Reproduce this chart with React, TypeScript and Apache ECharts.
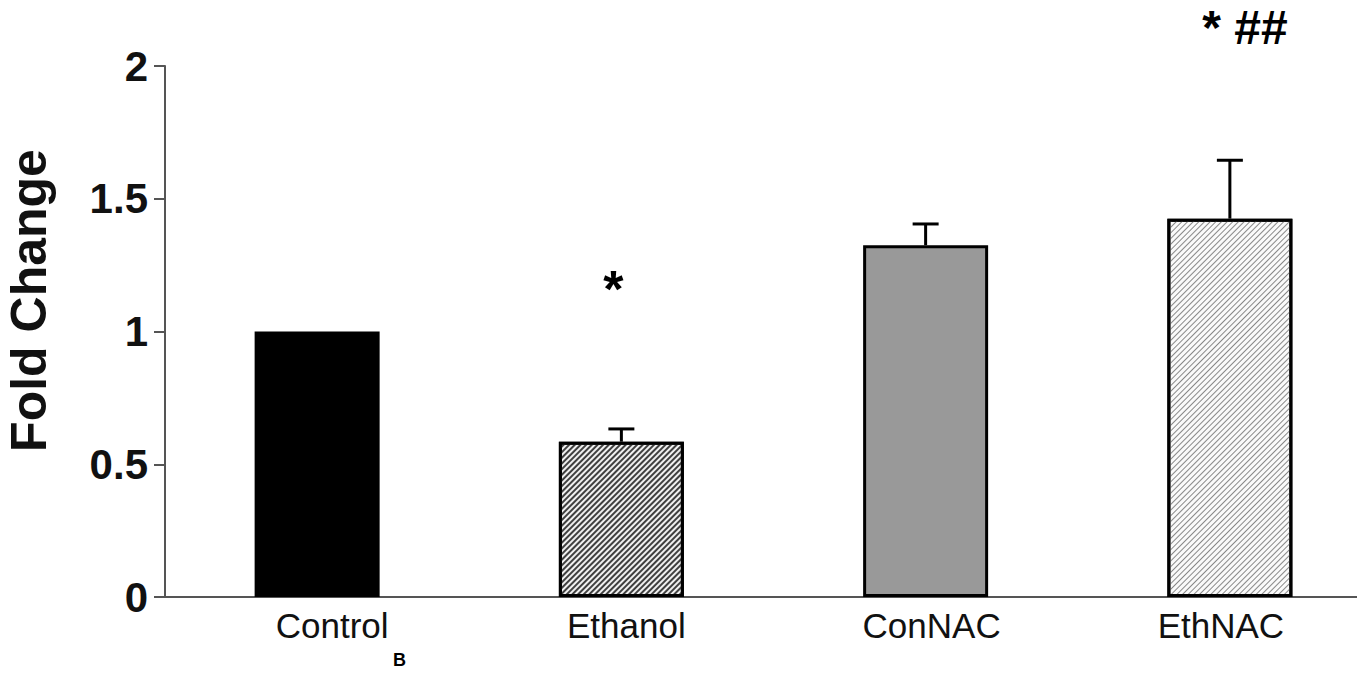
import React, { useEffect, useRef } from "react";
import * as echarts from "echarts";

const categories = ["Control", "Ethanol", "ConNAC", "EthNAC"];
const means = [1.0, 0.585, 1.325, 1.425];
const errors = [0, 0.048, 0.08, 0.22];
const annotations = ["", "*", "", "* ##"];
const yTicks = [0, 0.5, 1, 1.5, 2];

// horizontal nudge of each category label (px), as in the source figure
const labelShift = [15, 5, 6, -9];

export default function App() {
  const ref = useRef<HTMLDivElement>(null);
  useEffect(() => {
    if (!ref.current) return;
    const chart = echarts.init(ref.current, null, { renderer: "svg" });
    const font = "Arial, Liberation Sans, sans-serif";
    const barStyles = [
      { color: "#000000" },
      {
        color: "#f0f0f0",
        decal: {
          symbol: "rect",
          symbolSize: 1,
          dashArrayX: [1, 0],
          dashArrayY: [2, 2],
          rotation: -Math.PI / 4,
          color: "#404040",
        },
      },
      { color: "#999999" },
      {
        color: "#fafafa",
        decal: {
          symbol: "rect",
          symbolSize: 1,
          dashArrayX: [1, 0],
          dashArrayY: [1, 3],
          rotation: -Math.PI / 4,
          color: "#888888",
        },
      },
    ];
    chart.setOption({
      animation: false,
      grid: {
        left: 165,
        top: 66,
        bottom: 78,
        width: 1217,
        containLabel: false,
        outerBoundsMode: "none",
      },
      xAxis: {
        type: "category",
        data: categories.map((c, i) => ({
          value: c,
          textStyle: {
            padding: labelShift[i] >= 0 ? [0, 0, 0, 2 * labelShift[i]] : [0, -2 * labelShift[i], 0, 0],
          },
        })),
        axisLine: { lineStyle: { color: "#555", width: 2 } },
        axisTick: { show: false },
        axisLabel: {
          margin: 11,
          fontFamily: font,
          fontSize: 35,
          color: "#111",
        },
      },
      yAxis: {
        type: "value",
        min: 0,
        max: 2,
        interval: 0.5,
        name: "Fold Change",
        nameLocation: "middle",
        nameGap: 111,
        nameRotate: 90,
        nameTextStyle: {
          fontFamily: font,
          fontSize: 50,
          fontWeight: "bold",
          color: "#111",
          padding: [0, 0, 0, 62],
        },
        axisLine: { show: true, lineStyle: { color: "#555", width: 2 } },
        axisTick: { show: true, inside: false, length: 11, lineStyle: { color: "#555", width: 2 } },
        splitLine: { show: false },
        axisLabel: {
          margin: 17,
          fontFamily: font,
          fontSize: 42,
          fontWeight: "bold",
          color: "#111",
          formatter: (v: number) => (yTicks.includes(v) ? String(v) : ""),
        },
      },
      series: [
        {
          type: "bar",
          barWidth: 125,
          data: means.map((v, i) => ({
            value: v,
            itemStyle: { ...barStyles[i], borderColor: "#000", borderWidth: 3 },
          })),
          z: 2,
        },
        {
          type: "custom",
          z: 3,
          clip: false,
          data: means.map((m, i) => [i, m, m + errors[i]]),
          renderItem: (params: any, api: any) => {
            const i = api.value(0);
            const top = api.coord([i, api.value(2)]);
            const base = api.coord([i, api.value(1)]);
            const children: any[] = [];
            if (api.value(2) > api.value(1)) {
              children.push({
                type: "line",
                shape: { x1: top[0], y1: base[1], x2: top[0], y2: top[1] },
                style: { stroke: "#000", lineWidth: 3 },
              });
              children.push({
                type: "line",
                shape: { x1: top[0] - 13, y1: top[1], x2: top[0] + 13, y2: top[1] },
                style: { stroke: "#000", lineWidth: 3 },
              });
            }
            const ann = annotations[i];
            if (ann) {
              const multi = ann.length > 1;
              children.push({
                type: "text",
                x: top[0] + (multi ? 15 : -8),
                y: top[1] - (multi ? 133 : 140),
                style: {
                  text: ann,
                  fontFamily: font,
                  fontSize: multi ? 48 : 52,
                  fontWeight: "bold",
                  fill: "#000",
                  align: "center",
                  verticalAlign: "middle",
                },
              });
            }
            return { type: "group", children };
          },
        },
      ],
      graphic: [
        {
          type: "text",
          left: 393,
          top: 651,
          style: {
            text: "B",
            fontFamily: font,
            fontSize: 18,
            fontWeight: "bold",
            fill: "#000",
          },
        },
      ],
    });
    return () => chart.dispose();
  }, []);
  return <div ref={ref} style={{ width: 1357, height: 675, position: "absolute", left: 0, top: 0 }} />;
}
